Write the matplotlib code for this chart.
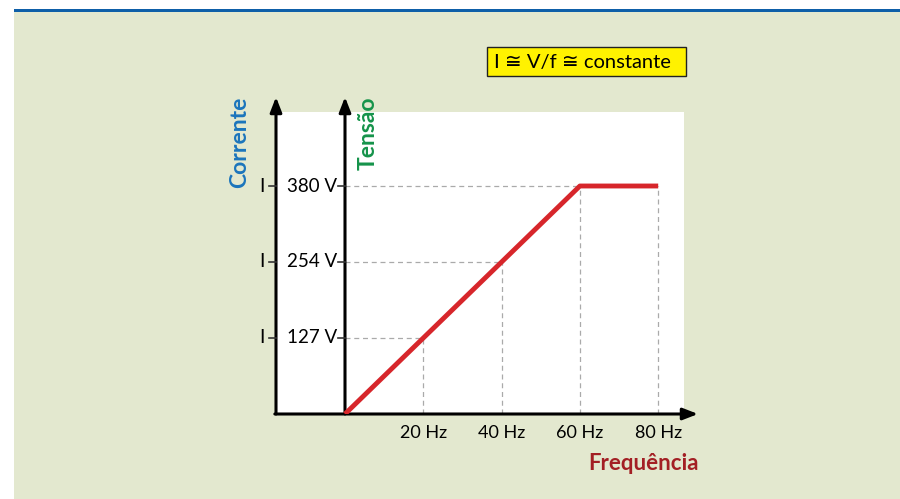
import matplotlib.pyplot as plt
from matplotlib.patches import Rectangle
from matplotlib import font_manager

# curve of voltage vs frequency
freq = [0, 60, 80]
volts = [0, 380, 380]

# reference levels
tick_freq = [20, 40, 60, 80]
tick_freq_labels = ['20 Hz', '40 Hz', '60 Hz', '80 Hz']
tick_volts = [127, 254, 380]
tick_volts_labels = ['127 V', '254 V', '380 V']
guide_freq = [20, 40, 60, 80]
guide_volts = [127, 254, 380, 380]
guide_ends = [20, 40, 80]

names = {f.name for f in font_manager.fontManager.ttflist}
fam = 'Liberation Sans Narrow' if 'Liberation Sans Narrow' in names else 'Lato'
plt.rcParams['font.family'] = [fam, 'DejaVu Sans']

W, H = 900, 499
fig = plt.figure(figsize=(9, 4.99), dpi=100)
fig.patch.set_facecolor('white')

# beige background and blue top rule
bg = fig.add_axes([0, 0, 1, 1], zorder=-5)
bg.set_xlim(0, W)
bg.set_ylim(H, 0)
bg.axis('off')
bg.add_patch(Rectangle((14, 12), W, H, facecolor='#e3e8cf', edgecolor='none'))
bg.add_patch(Rectangle((14, 9), W, 3, facecolor='#0e5fa8', edgecolor='none'))
# yellow formula box
bg.add_patch(Rectangle((487, 47), 199, 29, facecolor='#fff200', edgecolor='#222222', lw=1.0))
bg.text(494, 62, 'I ≅ V/f ≅ constante', ha='left', va='center', fontsize=14.5)

x0, y0 = 345, 414
sx, sy = 78.3 / 20, 228 / 380
left, right, top = 276, 698, 97
ax = fig.add_axes([left / W, (H - y0) / H, (right - left) / W, (y0 - top) / H], zorder=1)
ax.set_xlim((left - x0) / sx, (right - x0) / sx)
ax.set_ylim(0, (y0 - top) / sy)
ax.axis('off')
ax.patch.set_alpha(0)

xmin = (left - x0) / sx
# white panel
ax.add_patch(Rectangle((xmin, 0), (684 - left) / sx, (y0 - 112) / sy,
                       facecolor='white', edgecolor='none', zorder=0))

# dashed guides
for f, v in zip(guide_freq, guide_volts):
    ax.plot([f, f], [0, v], color='#aaaaaa', ls=(0, (4, 3)), lw=0.9, zorder=1)
for v, e in zip(tick_volts, guide_ends):
    ax.plot([0, e], [v, v], color='#aaaaaa', ls=(0, (4, 3)), lw=0.9, zorder=1)

# axes with arrows
ytop = (y0 - top) / sy
xright = (right - x0) / sx
arrow = dict(arrowstyle='-|>,head_length=0.9,head_width=0.35', color='black', lw=2.2,
             shrinkA=0, shrinkB=0)
ax.annotate('', xy=(xmin, ytop), xytext=(xmin, 0), arrowprops=arrow, zorder=3,
            annotation_clip=False)
ax.annotate('', xy=(0, ytop), xytext=(0, 0), arrowprops=arrow, zorder=3,
            annotation_clip=False)
ax.annotate('', xy=(xright, 0), xytext=(xmin - 0.3, 0), arrowprops=arrow, zorder=3,
            annotation_clip=False)

# red curve
ax.plot(freq, volts, color='#d7262b', lw=3.5, solid_capstyle='butt', zorder=4)

# ticks and labels on the voltage axes
tk = 7 / sx
for v, lab in zip(tick_volts, tick_volts_labels):
    ax.plot([-tk, 0], [v, v], color='#333333', lw=1.2, zorder=3)
    ax.text(-tk - 0.3, v, lab, ha='right', va='center', fontsize=13.5)
    ax.plot([xmin - tk, xmin], [v, v], color='#333333', lw=1.2, zorder=3, clip_on=False)
    ax.text(xmin - tk - 1.2, v, 'I', ha='right', va='center', fontsize=14)

for f, lab in zip(tick_freq, tick_freq_labels):
    ax.text(f, -11 / sy, lab, ha='center', va='top', fontsize=13)

# axis titles drawn above the panel
top_ax = fig.add_axes([0, 0, 1, 1], zorder=5)
top_ax.set_xlim(0, W)
top_ax.set_ylim(H, 0)
top_ax.axis('off')
top_ax.patch.set_alpha(0)
top_ax.text(240, 142, 'Corrente', rotation=90, ha='center', va='center',
            fontsize=16.5, fontweight='bold', color='#1b75bc')
top_ax.text(368, 133, 'Tensão', rotation=90, ha='center', va='center',
            fontsize=16.5, fontweight='bold', color='#15934a')
top_ax.text(644, 463, 'Frequência', ha='center', va='center',
            fontsize=16, fontweight='bold', color='#a31f24')

fig.savefig('out.png', dpi=100)
